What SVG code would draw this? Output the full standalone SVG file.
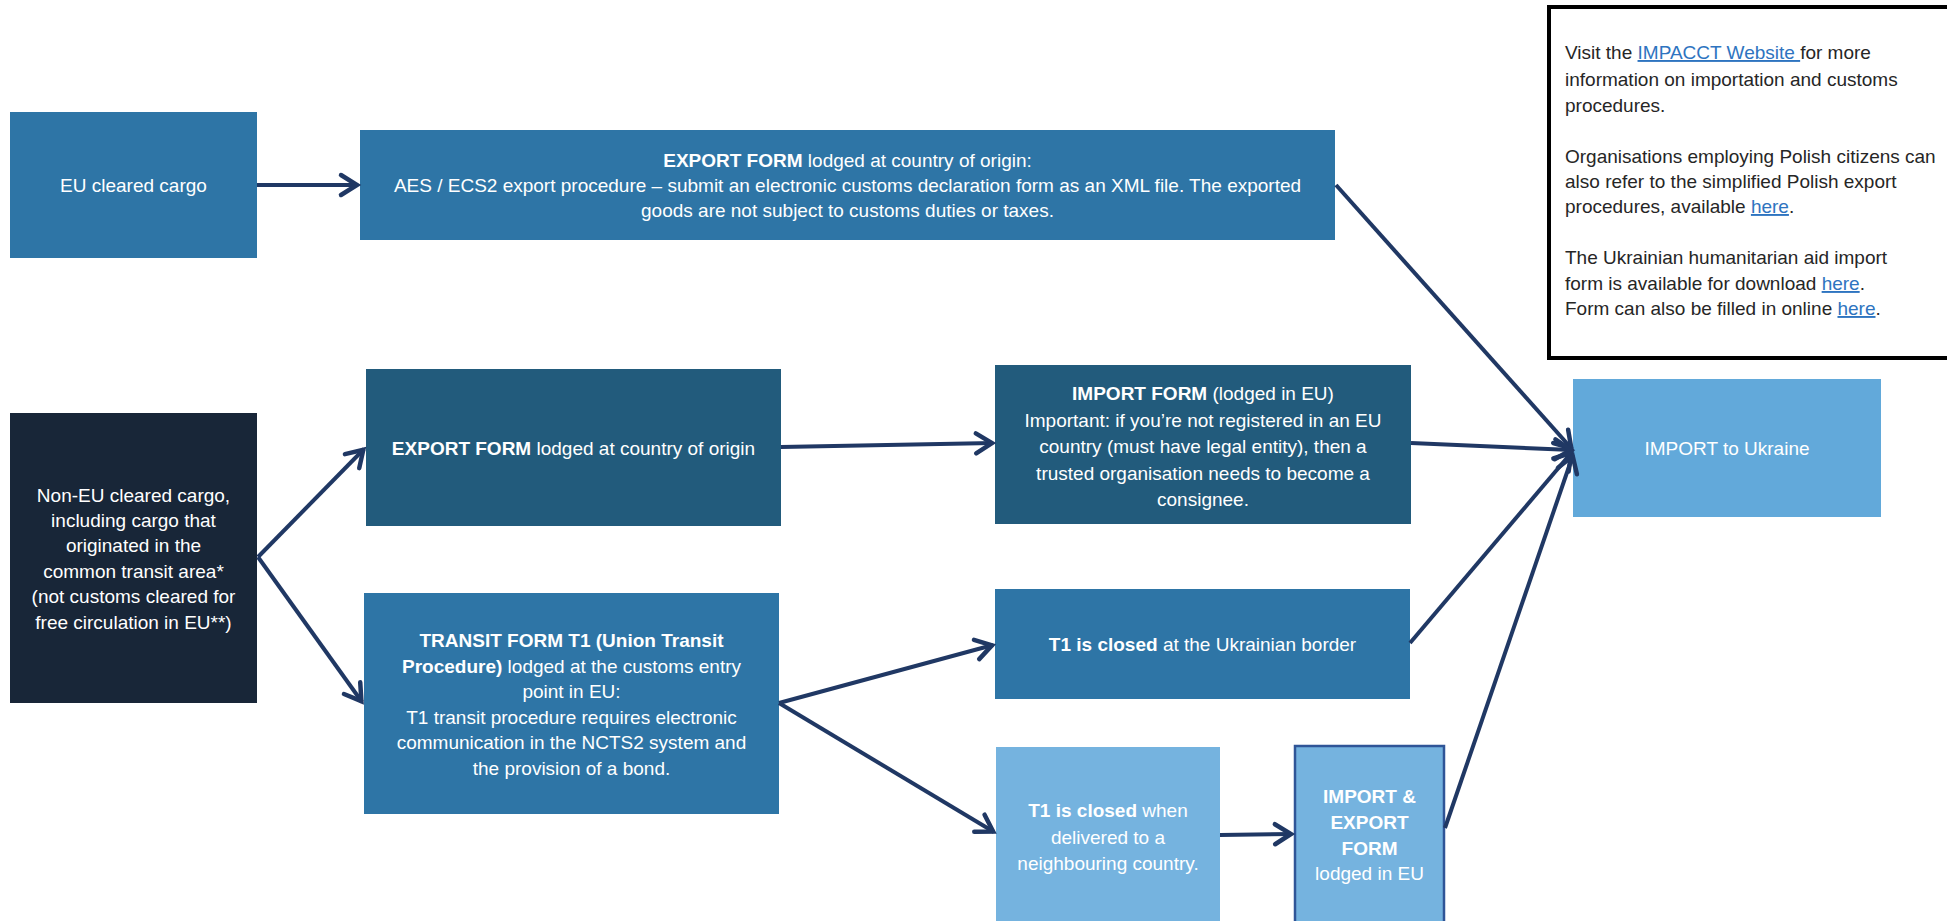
<svg xmlns="http://www.w3.org/2000/svg" width="1947" height="921" viewBox="0 0 1947 921">
<style>
text{font-family:"Liberation Sans",Arial,sans-serif}
.n text{fill:#fff;text-anchor:middle;font-size:19px}
.b{font-weight:bold}
.info text{fill:#262626;font-size:19px}
.lk{fill:#2E74C0;text-decoration:underline}
.c1{fill:#2E75A6}
.c2{fill:#225B7C}
.c3{fill:#182638}
.c4{fill:#62A9DA}
.c5{fill:#75B3DF}
.cn line{stroke:#203864;stroke-width:4;marker-end:url(#ah)}
</style>
<defs>
<marker id="ah" markerUnits="userSpaceOnUse" markerWidth="30" markerHeight="30" viewBox="-22 -15 30 30" refX="0" refY="0" orient="auto" overflow="visible">
<path d="M-17,-10 L-1,0 L-17,10" fill="none" stroke="#203864" stroke-width="4.5" stroke-linejoin="miter" stroke-linecap="round"/>
</marker>
</defs>
<rect width="1947" height="921" fill="#fff"/>

<g id="info" class="info">
<rect x="1549" y="7" width="420" height="351" fill="#fff" stroke="#000" stroke-width="4"/>
<text x="1565" y="59">Visit the <tspan class="lk">IMPACCT Website </tspan>for more</text>
<text x="1565" y="86">information on importation and customs</text>
<text x="1565" y="112">procedures.</text>
<text x="1565" y="163">Organisations employing Polish citizens can</text>
<text x="1565" y="188">also refer to the simplified Polish export</text>
<text x="1565" y="213">procedures, available <tspan class="lk">here</tspan>.</text>
<text x="1565" y="264">The Ukrainian humanitarian aid import</text>
<text x="1565" y="290">form is available for download <tspan class="lk">here</tspan>.</text>
<text x="1565" y="315">Form can also be filled in online <tspan class="lk">here</tspan>.</text>
</g>

<g id="eu-cleared" class="n">
<rect class="c1" x="10" y="112" width="247" height="146"/>
<text x="133.5" y="192">EU cleared cargo</text>
</g>

<g id="export-top" class="n">
<rect class="c1" x="360" y="130" width="975" height="110"/>
<text x="847.5" y="167"><tspan class="b">EXPORT FORM</tspan> lodged at country of origin:</text>
<text x="847.5" y="192">AES / ECS2 export procedure – submit an electronic customs declaration form as an XML file. The exported</text>
<text x="847.5" y="217">goods are not subject to customs duties or taxes.</text>
</g>

<g id="non-eu" class="n">
<rect class="c3" x="10" y="413" width="247" height="290"/>
<text x="133.5" y="502">Non-EU cleared cargo,</text>
<text x="133.5" y="527">including cargo that</text>
<text x="133.5" y="552">originated in the</text>
<text x="133.5" y="578">common transit area*</text>
<text x="133.5" y="603">(not customs cleared for</text>
<text x="133.5" y="629">free circulation in EU**)</text>
</g>

<g id="export-mid" class="n">
<rect class="c2" x="366" y="369" width="415" height="157"/>
<text x="573.5" y="455"><tspan class="b">EXPORT FORM</tspan> lodged at country of origin</text>
</g>

<g id="transit" class="n">
<rect class="c1" x="364" y="593" width="415" height="221"/>
<text x="571.5" y="647" class="b">TRANSIT FORM T1 (Union Transit</text>
<text x="571.5" y="673"><tspan class="b">Procedure)</tspan> lodged at the customs entry</text>
<text x="571.5" y="698">point in EU:</text>
<text x="571.5" y="724">T1 transit procedure requires electronic</text>
<text x="571.5" y="749">communication in the NCTS2 system and</text>
<text x="571.5" y="775">the provision of a bond.</text>
</g>

<g id="import-form" class="n">
<rect class="c2" x="995" y="365" width="416" height="159"/>
<text x="1203" y="400"><tspan class="b">IMPORT FORM</tspan> (lodged in EU)</text>
<text x="1203" y="426.5">Important: if you’re not registered in an EU</text>
<text x="1203" y="453">country (must have legal entity), then a</text>
<text x="1203" y="479.5">trusted organisation needs to become a</text>
<text x="1203" y="506">consignee.</text>
</g>

<g id="t1-border" class="n">
<rect class="c1" x="995" y="589" width="415" height="110"/>
<text x="1202.5" y="651"><tspan class="b">T1 is closed</tspan> at the Ukrainian border</text>
</g>

<g id="t1-neighbour" class="n">
<rect class="c5" x="996" y="747" width="224" height="180"/>
<text x="1108" y="817"><tspan class="b">T1 is closed</tspan> when</text>
<text x="1108" y="844">delivered to a</text>
<text x="1108" y="870">neighbouring country.</text>
</g>

<g id="import-export" class="n">
<rect class="c5" x="1295" y="746" width="149" height="185" stroke="#2F5597" stroke-width="2.5"/>
<text x="1369.5" y="803" class="b">IMPORT &amp;</text>
<text x="1369.5" y="829" class="b">EXPORT</text>
<text x="1369.5" y="855" class="b">FORM</text>
<text x="1369.5" y="880">lodged in EU</text>
</g>

<g id="import-ukraine" class="n">
<rect class="c4" x="1573" y="379" width="308" height="138"/>
<text x="1727" y="455">IMPORT to Ukraine</text>
</g>

<g id="connectors" class="cn">
<line x1="257" y1="185" x2="358" y2="185"/>
<line x1="258" y1="557" x2="364" y2="449"/>
<line x1="258" y1="557" x2="362" y2="702"/>
<line x1="781" y1="447" x2="993" y2="443"/>
<line x1="779" y1="703" x2="993" y2="645"/>
<line x1="779" y1="703" x2="994" y2="832"/>
<line x1="1220" y1="835" x2="1292" y2="834"/>
<line x1="1336" y1="185" x2="1572" y2="449"/>
<line x1="1411" y1="443" x2="1572" y2="450"/>
<line x1="1410" y1="643" x2="1572" y2="452"/>
<line x1="1445" y1="828" x2="1573" y2="455"/>
</g>
</svg>
